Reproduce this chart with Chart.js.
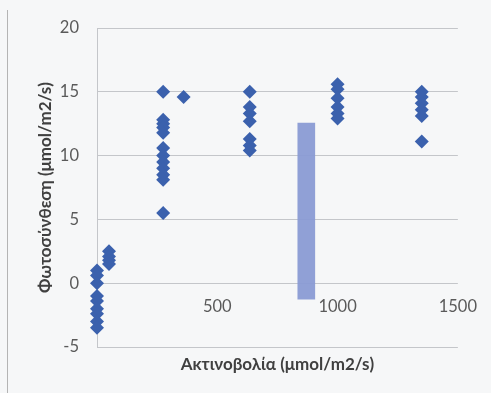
<!DOCTYPE html>
<html>
<head>
<meta charset="utf-8">
<script src="https://cdn.jsdelivr.net/npm/chart.js@4.4.1/dist/chart.umd.min.js"></script>
<style>
  html, body { margin: 0; padding: 0; background: #f6f7f8; }
  #wrap { position: relative; width: 491px; height: 393px; }
  #frame { position: absolute; left: 7px; top: 10px; width: 0; height: 383px; border-left: 1px solid #b4b4b4; }
  canvas { position: absolute; left: 0; top: 0; }
</style>
</head>
<body>
<div id="wrap">
  <div id="frame"></div>
  <canvas id="c" width="491" height="393"></canvas>
</div>
<script>
// Light level (μmol/m2/s) of each measurement group
const lightLevels = [0, 50, 275, 360, 635, 1000, 1350];

// Photosynthesis readings per light level
const photoAt0    = [1.0, 0.6, 0.0, -1.0, -1.4, -2.0, -2.4, -3.0, -3.5];
const photoAt50   = [2.5, 2.1, 1.8, 1.5];
const photoAt275  = [15.0, 12.8, 12.5, 12.2, 11.8, 10.6, 10.0, 9.5, 9.0, 8.5, 8.1, 5.5];
const photoAt360  = [14.6];
const photoAt635  = [15.0, 13.8, 13.3, 12.7, 11.3, 10.8, 10.4];
const photoAt1000 = [15.6, 15.2, 14.5, 13.8, 13.3, 12.9];
const photoAt1350 = [15.0, 14.6, 14.1, 13.6, 13.1, 11.1];
const readings = [photoAt0, photoAt50, photoAt275, photoAt360, photoAt635, photoAt1000, photoAt1350];

// Floating range bar: position and [low, high]
const rangeBarX = 870;
const rangeBarLowHigh = [-1.25, 12.55];

// Axis ticks and titles
const xTicks = [500, 1000, 1500];
const yTicks = [-5, 0, 5, 10, 15, 20];
const xTitle = 'Ακτινοβολία (μmol/m2/s)';
const yTitle = 'Φωτοσύνθεση (μmol/m2/s)';

const points = [];
lightLevels.forEach((lx, i) => readings[i].forEach(v => points.push({ x: lx, y: v })));

const gridColor = '#c4c6ca';
const tickColor = '#5a5a5a';
const titleColor = '#404040';
const baseFont = 'Lato, "Open Sans", sans-serif';

new Chart(document.getElementById('c'), {
  type: 'scatter',
  data: {
    datasets: [
      {
        type: 'bar',
        data: [{ x: rangeBarX, y: rangeBarLowHigh }],
        backgroundColor: 'rgba(138,155,212,0.95)',
        borderWidth: 0,
        barThickness: 17,
        order: 2
      },
      {
        data: points,
        clip: false,
        pointStyle: 'rectRot',
        pointRadius: 7,
        pointHoverRadius: 7,
        backgroundColor: '#3b61ad',
        borderColor: '#3b61ad',
        borderWidth: 0,
        order: 1
      }
    ]
  },
  options: {
    responsive: false,
    animation: false,
    events: [],
    layout: { padding: { left: 0, top: 28, right: 33, bottom: 0 } },
    plugins: { legend: { display: false }, tooltip: { enabled: false } },
    scales: {
      x: {
        type: 'linear',
        position: 'bottom',
        offset: false,
        min: 0, max: 1500,
        grid: { display: false, offset: false },
        border: { display: false },
        ticks: { display: false },
        title: {
          display: true, text: xTitle, color: titleColor,
          font: { family: baseFont, size: 17, weight: 'bold' },
          padding: { top: 0, bottom: 18 }
        },
        afterFit: s => { s.height = 46; }
      },
      xLabels: {
        type: 'linear',
        position: { y: 0 },
        offset: false,
        min: 0, max: 1500,
        grid: { display: false, drawTicks: false, offset: false },
        border: { display: false },
        afterBuildTicks: s => { s.ticks = xTicks.map(v => ({ value: v })); },
        ticks: {
          color: tickColor, padding: 14,
          font: { family: baseFont, size: 16.5 },
          callback: v => String(v)
        }
      },
      y: {
        type: 'linear',
        position: 'left',
        min: -5, max: 20,
        afterBuildTicks: s => { s.ticks = yTicks.map(v => ({ value: v })); },
        grid: { color: gridColor, lineWidth: 1, drawTicks: false },
        border: { display: true, color: gridColor },
        ticks: {
          color: tickColor, padding: 18,
          font: { family: baseFont, size: 16.5 },
          callback: v => String(v)
        },
        title: {
          display: true, text: yTitle, color: titleColor,
          font: { family: baseFont, size: 17, weight: 'bold' },
          padding: { top: 35, bottom: 0 }
        },
        afterFit: s => { s.width = 97; }
      }
    }
  }
});
</script>
</body>
</html>
